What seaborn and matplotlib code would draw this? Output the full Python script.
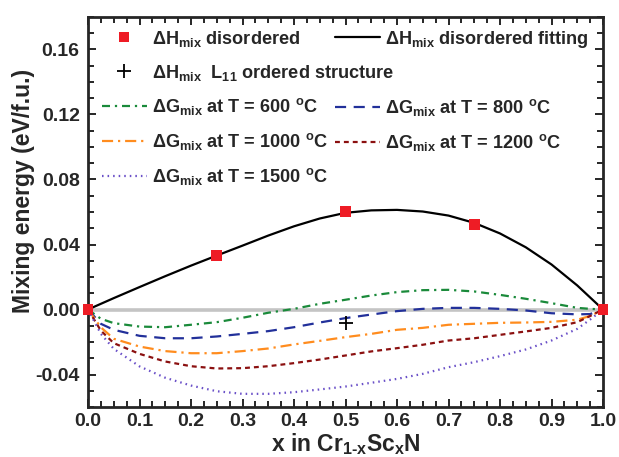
import numpy as np
import pandas as pd
import matplotlib
matplotlib.use("Agg")
import matplotlib.pyplot as plt
import seaborn as sns
from matplotlib.lines import Line2D
from matplotlib.ticker import MultipleLocator, FormatStrFormatter

# ---------------- data ----------------
x_dis = [0.0, 0.25, 0.5, 0.75, 1.0]
h_dis = [0.0, 0.0332, 0.0605, 0.0523, 0.0]

x_ord = [0.5]
h_ord = [-0.0084]

x_fit = [0.0, 0.05, 0.10, 0.15, 0.20, 0.25, 0.30, 0.35, 0.40, 0.45, 0.50,
         0.55, 0.60, 0.65, 0.70, 0.75, 0.80, 0.85, 0.90, 0.95, 1.0]
h_fit = [0.0, 0.0070, 0.0138, 0.0205, 0.0270, 0.0332, 0.0393, 0.0455, 0.0512,
         0.0560, 0.0595, 0.0610, 0.0613, 0.0603, 0.0578, 0.0533, 0.0468,
         0.0383, 0.0277, 0.0148, 0.0]

x_g = [0.0, 0.025, 0.05, 0.10, 0.15, 0.20, 0.25, 0.30, 0.35, 0.40, 0.45, 0.50,
       0.55, 0.60, 0.65, 0.70, 0.75, 0.80, 0.85, 0.90, 0.95, 0.975, 1.0]
g600 = [0.0, -0.0057, -0.0084, -0.0105, -0.0109, -0.0094, -0.0078, -0.0051,
        -0.0020, 0.0004, 0.0035, 0.0060, 0.0086, 0.0107, 0.0119, 0.0121,
        0.0111, 0.0090, 0.0066, 0.0039, 0.0010, 0.0004, 0.0]
g800 = [0.0, -0.0088, -0.0125, -0.0162, -0.0177, -0.0177, -0.0166, -0.0150,
        -0.0133, -0.0109, -0.0080, -0.0053, -0.0031, -0.0010, 0.0004, 0.0010,
        0.0010, 0.0004, -0.0006, -0.0023, -0.0030, -0.0028, 0.0]
g1000 = [0.0, -0.0110, -0.0180, -0.0228, -0.0256, -0.0269, -0.0269, -0.0256,
         -0.0240, -0.0215, -0.0193, -0.0170, -0.0150, -0.0125, -0.0113,
         -0.0094, -0.0088, -0.0082, -0.0080, -0.0076, -0.0063, -0.0040, 0.0]
g1200 = [0.0, -0.0130, -0.0207, -0.0273, -0.0320, -0.0349, -0.0363, -0.0361,
         -0.0349, -0.0330, -0.0308, -0.0283, -0.0258, -0.0238, -0.0217,
         -0.0191, -0.0177, -0.0156, -0.0135, -0.0113, -0.0078, -0.0040, 0.0]
g1500 = [0.0, -0.0150, -0.0242, -0.0350, -0.0420, -0.0468, -0.0503, -0.0519,
         -0.0519, -0.0509, -0.0492, -0.0474, -0.0451, -0.0427, -0.0396,
         -0.0355, -0.0324, -0.0287, -0.0246, -0.0191, -0.0119, -0.0062, 0.0]

temps = ["600", "800", "1000", "1200", "1500"]
g_series = [g600, g800, g1000, g1200, g1500]

xticks = [0.0, 0.1, 0.2, 0.3, 0.4, 0.5, 0.6, 0.7, 0.8, 0.9, 1.0]
yticks = [-0.04, 0.0, 0.04, 0.08, 0.12, 0.16]

# ---------------- style ----------------
sns.set_style("ticks")
plt.rcParams["font.family"] = ["Liberation Sans", "DejaVu Sans"]
plt.rcParams["font.weight"] = "bold"
plt.rcParams["axes.labelweight"] = "bold"
plt.rcParams["mathtext.fontset"] = "custom"
plt.rcParams["mathtext.rm"] = "Liberation Sans:bold"
plt.rcParams["mathtext.it"] = "Liberation Sans:bold"
plt.rcParams["mathtext.bf"] = "Liberation Sans:bold"
plt.rcParams["mathtext.default"] = "rm"

colors = {"600": "#1a8a3a", "800": "#22309a", "1000": "#ff8c1e",
          "1200": "#8b1010", "1500": "#6a50c8"}
dashes = {"600": (3.6, 2.2, 1, 2.2), "800": (5, 3.4), "1000": (5, 2.2, 1, 2.2),
          "1200": (2.2, 1.8), "1500": (0.7, 1.8)}

fig = plt.figure(figsize=(6.19, 4.57), dpi=100)
ax = fig.add_axes([88 / 619, 1 - 407 / 457, 515 / 619, 390 / 457])

ax.axhline(0.0, color="#c4c4c4", lw=2.6, zorder=1)

g_df = pd.DataFrame({
    "x": np.tile(x_g, len(temps)),
    "G": np.concatenate(g_series),
    "T": np.repeat(temps, len(x_g)),
})
sns.lineplot(data=g_df, x="x", y="G", hue="T", style="T", palette=colors,
             dashes=dashes, lw=1.6, ax=ax, legend=False, zorder=3,
             estimator=None, sort=False)

fit_df = pd.DataFrame({"x": x_fit, "H": h_fit})
sns.lineplot(data=fit_df, x="x", y="H", color="black", lw=1.6, ax=ax,
             legend=False, zorder=4, estimator=None, sort=False)

dis_df = pd.DataFrame({"x": x_dis, "H": h_dis})
sns.scatterplot(data=dis_df, x="x", y="H", marker="s", s=60, color="#ee1c25",
                edgecolor="none", ax=ax, zorder=5, legend=False, clip_on=False)
ord_df = pd.DataFrame({"x": x_ord, "H": h_ord})
sns.scatterplot(data=ord_df, x="x", y="H", marker="+", s=90, color="black",
                linewidth=1.3, ax=ax, zorder=5, legend=False)

# ---------------- axes ----------------
ax.set_xlim(0.0, 1.0)
ax.set_ylim(-0.06, 0.18)
ax.set_xticks(xticks)
ax.set_yticks(yticks)
ax.xaxis.set_minor_locator(MultipleLocator(0.025))
ax.yaxis.set_minor_locator(MultipleLocator(0.01))
ax.xaxis.set_major_formatter(FormatStrFormatter("%.1f"))
ax.yaxis.set_major_formatter(FormatStrFormatter("%.2f"))
ax.tick_params(which="both", direction="in", top=True, right=True,
               width=1.4, labelsize=14, pad=6)
ax.tick_params(axis="x", which="major", pad=4)
ax.tick_params(which="major", length=6)
ax.tick_params(which="minor", length=4)
for lab in ax.get_xticklabels() + ax.get_yticklabels():
    lab.set_fontweight("bold")
for sp in ax.spines.values():
    sp.set_linewidth(2.0)
    sp.set_visible(True)

ax.set_xlabel(r"x in Cr$_{\rm 1\text{-}x}$Sc$_{\rm x}$N", fontsize=16.5,
              fontweight="bold")
ax.xaxis.set_label_coords(0.5, -0.061)
ax.set_ylabel("Mixing energy (eV/f.u.)", fontsize=16.5, fontweight="bold")
ax.yaxis.set_label_coords(-0.103, 0.553)

# ---------------- legends ----------------
mix = r"$_{\rm mix}$"
deg = r"$^{\rm o}$C"

def gh(t):
    return Line2D([], [], color=colors[t], lw=1.6, dashes=dashes[t])

sq = Line2D([], [], marker="s", ls="none", color="#ee1c25", markersize=7.5,
            markeredgewidth=0)
pl = Line2D([], [], marker="+", ls="none", color="black", markersize=10,
            markeredgewidth=1.3)
fit_h = Line2D([], [], color="black", lw=1.6)
blank = Line2D([], [], color="none", lw=0)

left_h = [sq, pl, gh("600"), gh("1000"), gh("1500")]
left_l = ["ΔH" + mix + " disordered",
          "ΔH" + mix + r"  L$_{\rm 11}$ ordered structure",
          "ΔG" + mix + " at T = 600 " + deg,
          "ΔG" + mix + " at T = 1000 " + deg,
          "ΔG" + mix + " at T = 1500 " + deg]
right_h = [fit_h, blank, gh("800"), gh("1200")]
right_l = ["ΔH" + mix + " disordered fitting",
           "ΔH" + mix + r"  L$_{\rm 11}$",
           "ΔG" + mix + " at T = 800 " + deg,
           "ΔG" + mix + " at T = 1200 " + deg]

common = dict(loc="upper left", frameon=False, borderpad=0,
              borderaxespad=0, handlelength=2.45, handletextpad=0.3,
              labelspacing=0.76, prop={"weight": "bold", "size": 13.1})
legL = ax.legend(left_h, left_l, bbox_to_anchor=(14 / 515, 0.970), **common)
ax.add_artist(legL)
legR = ax.legend(right_h, right_l, bbox_to_anchor=(247 / 515, 0.970), **common)
legR.get_texts()[1].set_alpha(0)

fig.savefig("out.png", dpi=100)
